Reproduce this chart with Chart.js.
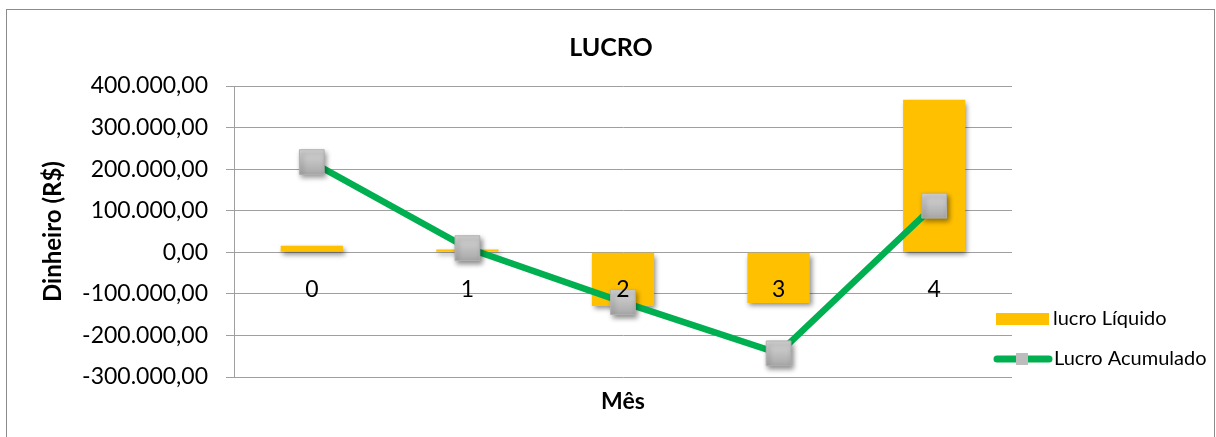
<!DOCTYPE html>
<html>
<head>
<meta charset="utf-8">
<script src="https://cdn.jsdelivr.net/npm/chart.js@4.4.0/dist/chart.umd.min.js"></script>
<style>
  body { margin: 0; background: #fff; }
  canvas { display: block; }
</style>
</head>
<body>
<canvas id="lucroChart" width="1216" height="437"></canvas>
<script>
const meses = ['0', '1', '2', '3', '4'];
const lucroLiquido = [16000, 7000, -129000, -122000, 367000];
const lucroAcumulado = [217000, 10000, -120000, -243000, 112000];

const AMARELO = '#FFC000';
const VERDE = '#00B050';
const CINZA_GRADE = '#9f9f9f';

Chart.defaults.font.family = 'Lato, "Open Sans", sans-serif';
Chart.defaults.color = '#000';

// format like Excel pt-BR: 100.000,00
function formatar(v) {
    const neg = v < 0;
    const s = Math.abs(Math.round(v)).toString().replace(/\B(?=(\d{3})+(?!\d))/g, '.');
    return (neg ? '-' : '') + s + ',00';
}

function marcadorCinza(ctx) {
    const chart = ctx.chart;
    if (!chart.chartArea || ctx.raw == null) return '#c0c0c0';
    const y = chart.scales.y.getPixelForValue(ctx.raw);
    const g = chart.ctx.createLinearGradient(0, y - 12, 0, y + 12);
    g.addColorStop(0, '#d6d6d6');
    g.addColorStop(1, '#a9a9a9');
    return g;
}

const fundoEBorda = {
    id: 'fundoEBorda',
    beforeDraw(chart) {
        const c = chart.ctx;
        c.save();
        c.fillStyle = '#fff';
        c.fillRect(0, 0, chart.width, chart.height);
        c.strokeStyle = '#8c8c8c';
        c.lineWidth = 1;
        c.strokeRect(6.5, 9.5, 1208, 450);
        c.restore();
    }
};

// excel-like soft shadow on bars and markers
const sombra = {
    id: 'sombra',
    beforeDatasetDraw(chart, args) {
        if (args.index === 1) return;
        const c = chart.ctx;
        c.save();
        c.shadowColor = 'rgba(0,0,0,0.45)';
        c.shadowBlur = 5;
        c.shadowOffsetX = 2;
        c.shadowOffsetY = 3;
    },
    afterDatasetDraw(chart, args) {
        if (args.index === 1) return;
        chart.ctx.restore();
    }
};

const legenda = {
    id: 'legenda',
    afterDraw(chart) {
        const c = chart.ctx;
        const ds = chart.data.datasets;
        c.save();
        c.font = '20px Lato, "Open Sans", sans-serif';
        c.textBaseline = 'middle';

        c.fillStyle = ds[0].backgroundColor;
        c.fillRect(996, 313, 53, 12);
        c.fillStyle = '#000';
        c.fillText(ds[0].label, 1053, 319);

        c.strokeStyle = ds[1].borderColor;
        c.lineWidth = 7;
        c.lineCap = 'round';
        c.beginPath();
        c.moveTo(997, 359);
        c.lineTo(1049, 359);
        c.stroke();
        c.fillStyle = '#bdbdbd';
        c.fillRect(1016, 353, 12, 12);
        c.fillStyle = '#000';
        c.fillText(ds[1].label, 1054, 359);
        c.restore();
    }
};

const data = {
    labels: meses,
    datasets: [{
        type: 'bar',
        label: 'lucro Líquido',
        data: lucroLiquido,
        backgroundColor: AMARELO,
        borderWidth: 0,
        barPercentage: 0.4,
        categoryPercentage: 1.0,
        order: 3
    }, {
        type: 'line',
        label: 'Lucro Acumulado',
        data: lucroAcumulado,
        borderColor: VERDE,
        borderWidth: 6.5,
        pointRadius: 0,
        tension: 0,
        order: 2
    }, {
        type: 'line',
        label: 'marcadores',
        data: lucroAcumulado,
        showLine: false,
        pointStyle: 'rect',
        pointRadius: 17.5,
        pointBackgroundColor: marcadorCinza,
        pointBorderColor: '#b0b0b0',
        pointBorderWidth: 1,
        order: 1
    }]
};

const config = {
    type: 'bar',
    data: data,
    plugins: [fundoEBorda, sombra, legenda],
    options: {
        responsive: false,
        animation: false,
        layout: { padding: { top: 0, left: 35, right: 29, bottom: 18 } },
        plugins: {
            legend: { display: false },
            tooltip: { enabled: false },
            title: {
                display: true,
                text: 'LUCRO',
                color: '#000',
                font: { size: 25, weight: 'bold' },
                padding: { top: 33, bottom: 23 }
            }
        },
        scales: {
            x: {
                type: 'category',
                offset: true,
                grid: { display: false },
                border: { display: false },
                ticks: { display: false },
                title: { display: true, text: 'Mês', font: { size: 23, weight: 'bold' } },
                afterFit: (s) => { s.height = 42; }
            },
            x2: {
                type: 'category',
                axis: 'x',
                labels: meses,
                offset: true,
                position: { y: 0 },
                grid: { display: false, drawTicks: false },
                border: { display: false },
                ticks: { font: { size: 23 }, padding: 23, z: 1 }
            },
            y: {
                min: -300000,
                max: 400000,
                grid: { color: CINZA_GRADE, tickLength: 8 },
                border: { color: CINZA_GRADE },
                ticks: {
                    stepSize: 100000,
                    padding: 18,
                    font: { size: 23 },
                    callback: (v) => formatar(v)
                },
                title: { display: true, text: 'Dinheiro (R$)', font: { size: 24, weight: 'bold' } },
                afterFit: (s) => { s.width = 199; }
            },
            // empty right axis: leaves room for the legend
            yLegenda: {
                type: 'linear',
                axis: 'y',
                position: 'right',
                grid: { display: false },
                border: { display: false },
                ticks: { display: false },
                afterFit: (s) => { s.width = 175; }
            }
        }
    }
};

// eslint-disable-next-line
const lucroChart = new Chart(
    document.getElementById('lucroChart'),
    config
);
</script>
</body>
</html>
